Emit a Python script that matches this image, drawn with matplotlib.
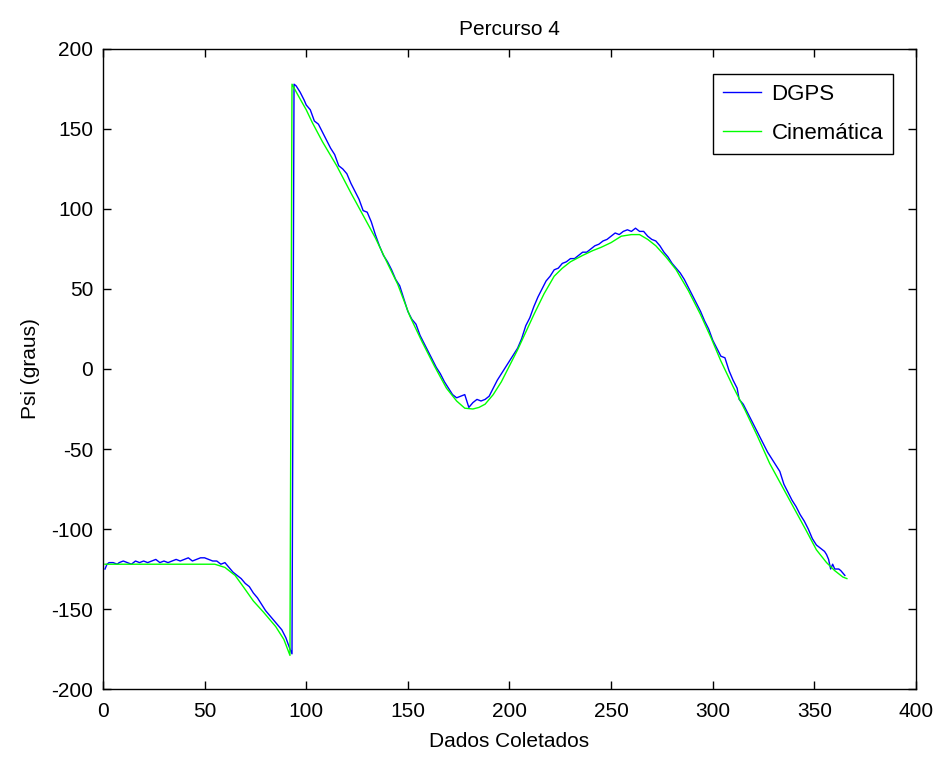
import matplotlib
matplotlib.use('Agg')
import matplotlib.pyplot as plt

plt.rcParams['font.family'] = ['Liberation Sans', 'DejaVu Sans']
plt.rcParams['axes.unicode_minus'] = False

# Cinematica (green) - modelo cinematico
x_cin = [1, 10, 20, 30, 40, 50, 55, 60, 65, 69, 74, 79, 85, 89, 92,
         93, 96, 100, 103, 108, 115, 122, 128, 134, 140, 145, 151, 157, 163, 169,
         174, 178, 182, 185, 188, 192, 196, 200, 204, 208, 212, 217, 222, 226, 230,
         236, 241, 245, 250, 255, 260, 264, 268, 272, 277, 282, 288, 294, 299, 304,
         310, 316, 322, 328, 334, 340, 346, 351, 356, 360, 364, 366]
y_cin = [-122, -122, -122, -122, -122, -122, -122, -124, -129, -136, -145, -152, -161, -169, -179,
         178, 171, 162, 154, 142, 127, 110, 96, 82, 66, 53, 33, 17, 2, -12,
         -20, -24.5, -25, -24, -22, -16, -8, 2, 12, 23, 34, 47, 58, 63, 67,
         71, 74, 76, 79, 83, 84, 84, 81, 77, 70, 62, 49, 34, 20, 5,
         -11, -26, -42, -59, -73, -87, -101, -113, -121, -126, -130, -131]

# DGPS (blue) - dados medidos
x_gps = [1, 2, 3, 5, 7, 8, 10, 12, 14, 16, 18, 20, 22, 24, 26, 28, 30, 32, 34, 36,
         38, 40, 42, 44, 46, 48, 50, 52, 54, 56, 58, 60, 62, 64, 66, 68, 70, 72, 74, 76,
         78, 80, 82, 84, 86, 88, 90, 92, 93, 94, 95, 97, 99, 100, 102, 104, 106, 108, 110, 112,
         114, 116, 118, 120, 122, 124, 126, 128, 130, 132, 134, 136, 138, 140, 142, 144, 146, 148, 150, 152,
         154, 156, 158, 160, 162, 164, 166, 168, 170, 172, 174, 176, 178, 180, 182, 184, 186, 188, 190, 192,
         194, 196, 198, 200, 202, 204, 206, 208, 210, 212, 214, 216, 218, 220, 222, 224, 226, 228, 230, 232,
         234, 236, 238, 240, 242, 244, 246, 248, 250, 252, 254, 256, 258, 260, 262, 264, 266, 268, 270, 272,
         274, 276, 278, 280, 282, 284, 286, 288, 290, 292, 294, 296, 298, 300, 302, 304, 306, 308, 310, 312,
         313, 315, 317, 319, 321, 323, 325, 327, 329, 331, 333, 335, 337, 339, 341, 343, 345, 347, 349, 351,
         353, 355, 356, 357, 358, 359, 360, 362, 363, 365]
y_gps = [-125, -122, -121, -121, -122, -121, -120, -121, -122, -120, -121, -120, -121, -120, -119, -121, -120, -121, -120, -119,
         -120, -119, -118, -120, -119, -118, -118, -119, -120, -120, -122, -121, -124, -127, -129, -131, -134, -136, -140, -143,
         -147, -151, -154, -157, -160, -163, -168, -175, -178, 178, 177, 173, 168, 165, 162, 155, 153, 148, 143, 138,
         134, 127, 125, 122, 116, 111, 106, 99, 98, 92, 84, 77, 71, 67, 62, 56, 52, 44, 36, 31,
         28, 21, 16, 11, 6, 1, -3, -8, -12, -16, -18, -17, -16, -24, -21, -19, -20, -19, -17, -12,
         -7, -3, 1, 5, 9, 13, 19, 27, 32, 39, 45, 50, 55, 58, 62, 63, 66, 67, 69, 69,
         71, 73, 73, 75, 77, 78, 80, 81, 83, 85, 84, 86, 87, 86, 88, 86, 86, 83, 81, 80,
         77, 73, 70, 66, 63, 60, 56, 51, 46, 41, 36, 30, 25, 18, 13, 8, 7, -1, -7, -12,
         -19, -22, -27, -32, -37, -42, -47, -52, -56, -60, -64, -72, -77, -82, -86, -91, -95, -100, -106, -110,
         -112, -114, -116, -119, -125, -122, -125, -125, -126, -129]

x_ticks = [0, 50, 100, 150, 200, 250, 300, 350, 400]
y_ticks = [-200, -150, -100, -50, 0, 50, 100, 150, 200]

fig = plt.figure(figsize=(9.42, 7.57), dpi=100)
ax = fig.add_axes([0.1093, 0.0898, 0.8631, 0.8455])

ax.plot(x_gps, y_gps, color='#0000ff', lw=1.0, label='DGPS')
ax.plot(x_cin, y_cin, color='#00ff00', lw=1.0, label='Cinemática')

ax.set_xlim(0, 400)
ax.set_ylim(-200, 200)
ax.set_xticks(x_ticks)
ax.set_yticks(y_ticks)
ax.tick_params(direction='in', top=True, right=True, length=5.8, width=1,
               labelsize=15)
ax.tick_params(axis='x', pad=9)
ax.tick_params(axis='y', pad=7)
for s in ax.spines.values():
    s.set_linewidth(1.0)

ax.set_title('Percurso 4', fontsize=15, pad=10)
ax.set_xlabel('Dados Coletados', fontsize=15, labelpad=8)
ax.set_ylabel('Psi (graus)', fontsize=15, labelpad=8)

leg = ax.legend(loc='upper right', bbox_to_anchor=(0.972, 0.961), fontsize=16,
                fancybox=False, framealpha=1, edgecolor='black',
                handlelength=1.75, handletextpad=0.45, borderaxespad=0,
                borderpad=0.45, labelspacing=0.8)
leg.get_frame().set_linewidth(1.0)

plt.savefig('out.png', dpi=100)
